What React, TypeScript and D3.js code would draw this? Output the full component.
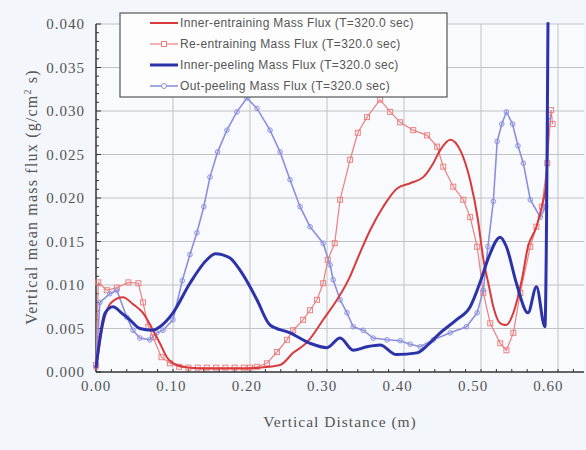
import React, { useEffect, useRef } from 'react';
import * as d3 from 'd3';

type Pt = [number, number];

const innerEntraining: Pt[] = [
  [0, 0.0003], [0.008, 0.005], [0.02, 0.008], [0.035, 0.0086], [0.048, 0.0078], [0.061, 0.0068],
  [0.074, 0.0048], [0.083, 0.0033], [0.092, 0.0017], [0.105, 0.0008], [0.122, 0.0005], [0.15, 0.0004],
  [0.18, 0.0004], [0.213, 0.0005], [0.239, 0.0008], [0.256, 0.0022], [0.274, 0.0034], [0.295, 0.006],
  [0.313, 0.0083], [0.33, 0.011], [0.339, 0.0129], [0.356, 0.0163], [0.373, 0.019], [0.391, 0.0211],
  [0.408, 0.0217], [0.425, 0.0224], [0.438, 0.024], [0.447, 0.0255], [0.46, 0.0267], [0.473, 0.0255],
  [0.486, 0.022], [0.496, 0.0175], [0.503, 0.013], [0.51, 0.01], [0.516, 0.0075], [0.525, 0.0056],
  [0.533, 0.0054], [0.542, 0.0068], [0.553, 0.0106], [0.561, 0.0144], [0.572, 0.0167], [0.579, 0.019],
  [0.585, 0.022], [0.587, 0.0285],
];

const reEntraining: Pt[] = [
  [0, 0.0008], [0.003, 0.0103], [0.014, 0.0094], [0.027, 0.0097], [0.042, 0.0103], [0.055, 0.0102],
  [0.061, 0.008], [0.068, 0.0052], [0.074, 0.004], [0.085, 0.0017], [0.096, 0.001], [0.108, 0.0006],
  [0.12, 0.0005], [0.132, 0.0005], [0.144, 0.0005], [0.156, 0.0005], [0.168, 0.0005], [0.18, 0.0005],
  [0.192, 0.0005], [0.2, 0.0005], [0.209, 0.0006], [0.222, 0.001], [0.235, 0.0023], [0.248, 0.0037],
  [0.256, 0.0048], [0.269, 0.006], [0.278, 0.0071], [0.287, 0.0083], [0.295, 0.0102], [0.301, 0.0129],
  [0.31, 0.0148], [0.317, 0.0198], [0.33, 0.0244], [0.34, 0.0275], [0.352, 0.0293], [0.369, 0.0313],
  [0.382, 0.0299], [0.395, 0.0287], [0.412, 0.0278], [0.43, 0.0272], [0.443, 0.0259], [0.451, 0.0236],
  [0.464, 0.0213], [0.477, 0.0198], [0.486, 0.0178], [0.495, 0.0144], [0.503, 0.0091], [0.512, 0.0056],
  [0.525, 0.0033], [0.533, 0.0025], [0.542, 0.0045], [0.551, 0.0091], [0.564, 0.0144], [0.572, 0.0167],
  [0.579, 0.019], [0.586, 0.024], [0.591, 0.0301], [0.593, 0.0285],
];

const innerPeeling: Pt[] = [
  [0, 0.0005], [0.012, 0.0068], [0.022, 0.0075], [0.033, 0.0068], [0.044, 0.006], [0.057, 0.005],
  [0.073, 0.0048], [0.083, 0.0052], [0.1, 0.0068], [0.122, 0.0102], [0.144, 0.0129], [0.155, 0.0136],
  [0.174, 0.0131], [0.187, 0.0117], [0.2, 0.0098], [0.209, 0.0083], [0.226, 0.0054], [0.252, 0.0045],
  [0.278, 0.0033], [0.3, 0.0028], [0.317, 0.0039], [0.334, 0.0025], [0.352, 0.0029], [0.369, 0.0031],
  [0.39, 0.002], [0.417, 0.0022], [0.432, 0.0032], [0.447, 0.0045], [0.468, 0.006], [0.486, 0.0075],
  [0.5, 0.0106], [0.51, 0.0132], [0.525, 0.0155], [0.533, 0.0144], [0.546, 0.0102], [0.561, 0.0068],
  [0.572, 0.0098], [0.583, 0.0052], [0.587, 0.0402],
];

const outPeeling: Pt[] = [
  [0, 0.0005], [0.005, 0.008], [0.018, 0.009], [0.027, 0.0094], [0.04, 0.0063], [0.048, 0.0048],
  [0.057, 0.0039], [0.07, 0.0037], [0.079, 0.0045], [0.087, 0.0048], [0.1, 0.006], [0.112, 0.0105],
  [0.122, 0.0135], [0.131, 0.016], [0.14, 0.019], [0.148, 0.0224], [0.158, 0.0253], [0.17, 0.0278],
  [0.183, 0.0299], [0.196, 0.0315], [0.209, 0.0303], [0.226, 0.0278], [0.239, 0.0253], [0.252, 0.0221],
  [0.265, 0.019], [0.278, 0.0167], [0.295, 0.0148], [0.304, 0.0123], [0.308, 0.0106], [0.317, 0.0083],
  [0.326, 0.0068], [0.334, 0.0052], [0.347, 0.0048], [0.36, 0.0039], [0.378, 0.0037], [0.395, 0.0036],
  [0.408, 0.0032], [0.421, 0.0029], [0.438, 0.0037], [0.46, 0.0045], [0.481, 0.0052], [0.495, 0.0068],
  [0.503, 0.0094], [0.509, 0.0144], [0.516, 0.0196], [0.521, 0.0265], [0.527, 0.0285], [0.533, 0.0299],
  [0.541, 0.0285], [0.548, 0.026], [0.555, 0.024], [0.564, 0.0198], [0.577, 0.0178], [0.584, 0.019],
  [0.588, 0.0293],
];

const xTicks = [0, 0.1, 0.2, 0.3, 0.4, 0.5, 0.6];
const yTicks = [0, 0.005, 0.01, 0.015, 0.02, 0.025, 0.03, 0.035, 0.04];

const seriesNames = [
  'Inner-entraining Mass Flux (T=320.0 sec)',
  'Re-entraining Mass Flux (T=320.0 sec)',
  'Inner-peeling Mass Flux (T=320.0 sec)',
  'Out-peeling Mass Flux (T=320.0 sec)',
];

const App = () => {
  const ref = useRef<SVGSVGElement>(null);

  useEffect(() => {
    if (!ref.current) return;
    const svg = d3.select(ref.current);
    svg.selectAll('*').remove();

    const W = 586, H = 450;
    const left = 96, right = 584, top = 24, bottom = 372;
    const x = d3.scaleLinear().domain([0, 0.6]).range([left, left + 462]);
    const y = d3.scaleLinear().domain([0, 0.04]).range([bottom, top]);
    const serif = '"Liberation Serif", "DejaVu Serif", serif';
    const sans = '"Liberation Sans", Arial, sans-serif';

    svg.append('rect').attr('width', W).attr('height', H).attr('fill', '#f3f6fb');
    svg.append('rect')
      .attr('x', left).attr('y', top).attr('width', right - left).attr('height', bottom - top)
      .attr('fill', '#f8fafd');

    // grid
    const grid = svg.append('g').attr('stroke', '#c0c2c6').attr('stroke-width', 1);
    grid.selectAll('.h').data(yTicks.slice(1)).join('line')
      .attr('x1', left).attr('x2', right)
      .attr('y1', d => y(d)).attr('y2', d => y(d));
    grid.selectAll('.v').data(xTicks.slice(1)).join('line')
      .attr('y1', top).attr('y2', bottom)
      .attr('x1', d => x(d)).attr('x2', d => x(d));

    // axes
    const axes = svg.append('g').attr('stroke', '#333');
    axes.append('line').attr('x1', left).attr('x2', left).attr('y1', top).attr('y2', bottom).attr('stroke-width', 1.5);
    axes.append('line').attr('x1', left).attr('x2', right).attr('y1', bottom).attr('y2', bottom).attr('stroke-width', 1.5);
    axes.selectAll('.yt').data(d3.range(0, 41).map(i => i * 0.001)).join('line')
      .attr('x1', left).attr('x2', d => left + (Math.round(d * 1000) % 5 === 0 ? 5 : 3))
      .attr('y1', d => y(d)).attr('y2', d => y(d)).attr('stroke-width', 1);
    axes.selectAll('.xt').data(d3.range(0, 32).map(i => i * 0.02)).join('line')
      .attr('y1', bottom).attr('y2', bottom - 3)
      .attr('x1', d => x(d)).attr('x2', d => x(d)).attr('stroke-width', 1);

    svg.append('g').selectAll('text').data(yTicks).join('text')
      .attr('x', 85).attr('y', d => y(d)).attr('dy', '0.35em')
      .attr('text-anchor', 'end').attr('font-family', serif).attr('font-size', 15)
      .attr('letter-spacing', 1).attr('fill', '#555')
      .text(d => d.toFixed(3));
    svg.append('g').selectAll('text').data(xTicks).join('text')
      .attr('x', d => x(d) - d * 16).attr('y', 391)
      .attr('text-anchor', 'middle').attr('font-family', serif).attr('font-size', 15)
      .attr('letter-spacing', 1).attr('fill', '#555')
      .text(d => d.toFixed(2));

    svg.append('text')
      .attr('x', 340).attr('y', 427).attr('text-anchor', 'middle')
      .attr('font-family', serif).attr('font-size', 15.5).attr('letter-spacing', 1).attr('fill', '#555')
      .text('Vertical Distance (m)');
    const yl = svg.append('text')
      .attr('transform', 'translate(37,197) rotate(-90)').attr('text-anchor', 'middle')
      .attr('font-family', serif).attr('font-size', 16).attr('letter-spacing', 1.2).attr('fill', '#555');
    yl.append('tspan').text('Vertical mean mass flux (g/cm');
    yl.append('tspan').attr('dy', -6).attr('font-size', 10).text('2');
    yl.append('tspan').attr('dy', 6).text(' s)');

    const smooth = d3.line<Pt>().x(d => x(d[0])).y(d => y(d[1])).curve(d3.curveMonotoneX);
    const straight = d3.line<Pt>().x(d => x(d[0])).y(d => y(d[1]));

    const plot = svg.append('g');
    plot.append('path').datum(reEntraining).attr('d', straight)
      .attr('fill', 'none').attr('stroke', '#ec8080').attr('stroke-width', 1.2);
    plot.append('g').selectAll('rect').data(reEntraining).join('rect')
      .attr('x', d => x(d[0]) - 2.5).attr('y', d => y(d[1]) - 2.5)
      .attr('width', 5).attr('height', 5)
      .attr('fill', 'none').attr('stroke', '#ec8080').attr('stroke-width', 1);

    plot.append('path').datum(outPeeling).attr('d', straight)
      .attr('fill', 'none').attr('stroke', '#8c90dc').attr('stroke-width', 1.6);
    plot.append('g').selectAll('circle').data(outPeeling).join('circle')
      .attr('cx', d => x(d[0])).attr('cy', d => y(d[1])).attr('r', 2.3)
      .attr('fill', 'none').attr('stroke', '#8c90dc').attr('stroke-width', 1);

    plot.append('path').datum(innerEntraining).attr('d', smooth)
      .attr('fill', 'none').attr('stroke', '#d93a3c').attr('stroke-width', 2);
    plot.append('path').datum(innerPeeling).attr('d', smooth)
      .attr('fill', 'none').attr('stroke', '#2c33a8').attr('stroke-width', 3);

    // legend
    const lg = svg.append('g');
    lg.append('rect').attr('x', 120).attr('y', 13).attr('width', 327).attr('height', 84)
      .attr('fill', '#fdfdfe').attr('stroke', '#555').attr('stroke-width', 1.2);
    const styles = [
      { c: '#d93a3c', w: 2, m: '' },
      { c: '#ec8080', w: 1.2, m: 'square' },
      { c: '#2c33a8', w: 3, m: '' },
      { c: '#8c90dc', w: 1.6, m: 'circle' },
    ];
    seriesNames.forEach((name, i) => {
      const ry = 23 + i * 21;
      const s = styles[i];
      lg.append('line').attr('x1', 150).attr('x2', 178).attr('y1', ry).attr('y2', ry)
        .attr('stroke', s.c).attr('stroke-width', s.w);
      if (s.m === 'square') {
        lg.append('rect').attr('x', 161.5).attr('y', ry - 2.5).attr('width', 5).attr('height', 5)
          .attr('fill', '#fff').attr('stroke', s.c);
      } else if (s.m === 'circle') {
        lg.append('circle').attr('cx', 164).attr('cy', ry).attr('r', 2.5)
          .attr('fill', '#fff').attr('stroke', s.c);
      }
      lg.append('text').attr('x', 180).attr('y', ry).attr('dy', '0.35em')
        .attr('font-family', sans).attr('font-size', 12).attr('letter-spacing', 0.35).attr('fill', '#555')
        .text(name);
    });
  }, []);

  return <svg ref={ref} width={586} height={450} style={{ position: 'absolute', left: 0, top: 0 }} />;
};

export default App;
